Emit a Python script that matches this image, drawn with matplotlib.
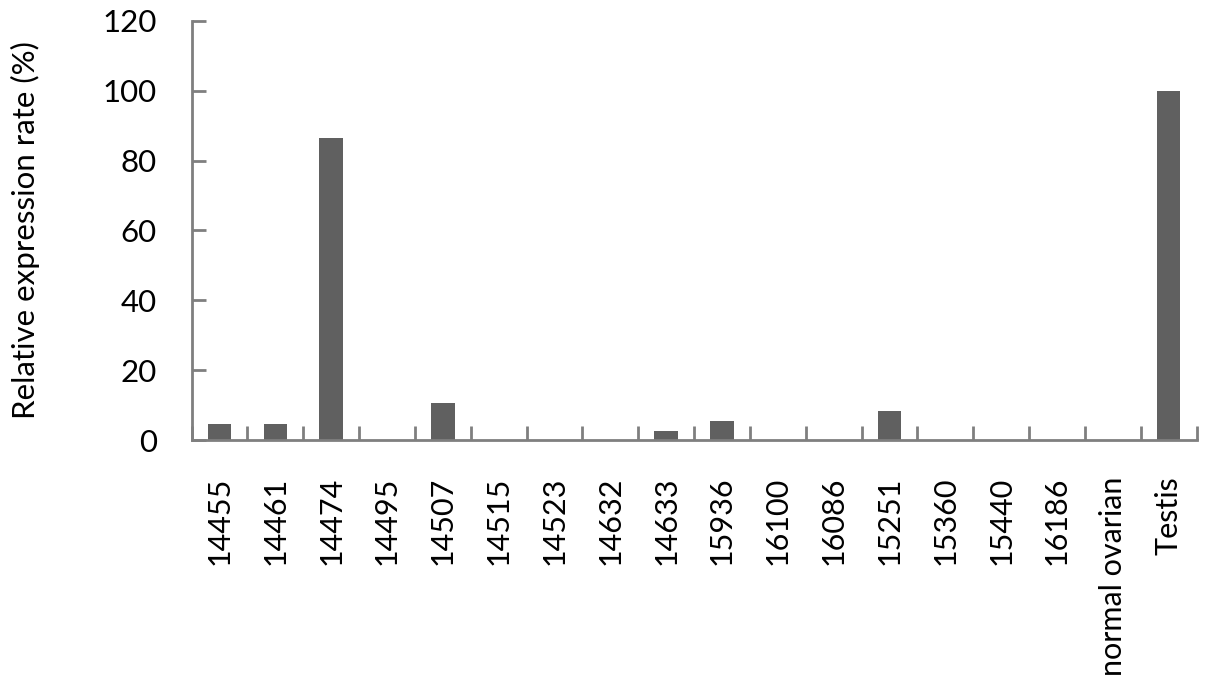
import numpy as np
import matplotlib
matplotlib.use("Agg")
import matplotlib.pyplot as plt

samples = ["14455", "14461", "14474", "14495", "14507", "14515", "14523", "14632",
           "14633", "15936", "16100", "16086", "15251", "15360", "15440", "16186",
           "normal ovarian", "Testis"]
expression = [4.6, 4.6, 86.5, 0, 10.6, 0, 0, 0, 2.6, 5.4, 0, 0, 8.3, 0, 0, 0, 0, 100]

plt.rcParams["font.family"] = ["Lato", "DejaVu Sans"]

fig = plt.figure(figsize=(12.05, 6.91), dpi=100)
ax = fig.add_axes([0.159, 0.363, 0.834, 0.607])

x = np.arange(len(samples))
ax.bar(x, expression, width=0.42, color="#606060")

axis_color = "#7f7f7f"
ax.set_xlim(-0.5, len(samples) - 0.5)
ax.set_ylim(0, 120)
ax.set_yticks(range(0, 121, 20))
ax.tick_params(axis="y", direction="in", length=10, width=2, color=axis_color,
               labelsize=22.5, pad=25)

ax.set_xticks(x)
ax.set_xticklabels(samples, rotation=90, fontsize=22)
ax.tick_params(axis="x", which="major", length=0, pad=26)
ax.set_xticks(np.arange(-0.5, len(samples), 1), minor=True)
ax.tick_params(axis="x", which="minor", direction="in", length=10, width=2, color=axis_color)

for side in ["top", "right"]:
    ax.spines[side].set_visible(False)
for side in ["left", "bottom"]:
    ax.spines[side].set_color(axis_color)
    ax.spines[side].set_linewidth(2)

ax.set_ylabel("Relative expression rate (%)", fontsize=22.5, labelpad=45)

fig.savefig("out.png", dpi=100)
